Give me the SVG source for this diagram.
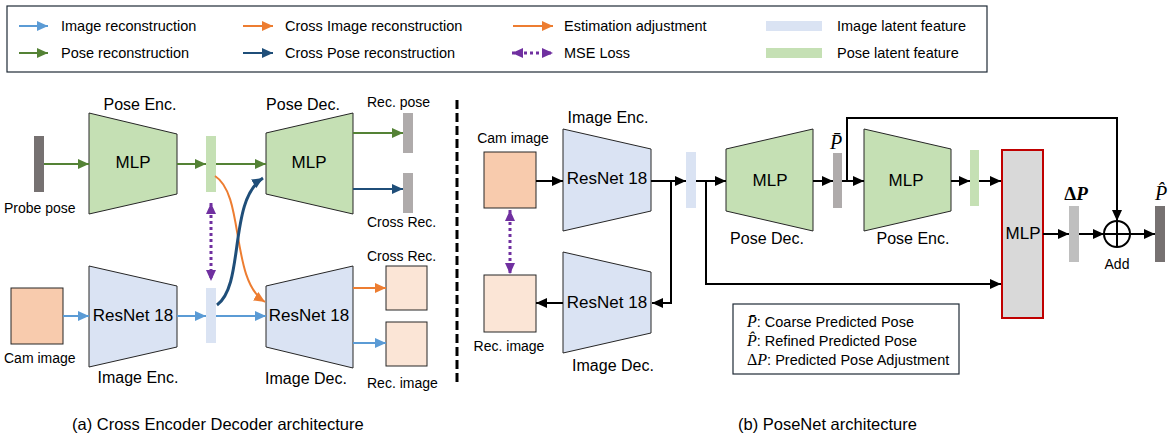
<svg xmlns="http://www.w3.org/2000/svg" width="1173" height="441" viewBox="0 0 1173 441">
<defs>
<marker id="hb" markerUnits="userSpaceOnUse" markerWidth="12" markerHeight="10" refX="11" refY="5" orient="auto"><path d="M0,0 L11,5 L0,10 Z" fill="#5B9BD5"/></marker>
<marker id="hg" markerUnits="userSpaceOnUse" markerWidth="12" markerHeight="10" refX="11" refY="5" orient="auto"><path d="M0,0 L11,5 L0,10 Z" fill="#548235"/></marker>
<marker id="ho" markerUnits="userSpaceOnUse" markerWidth="12" markerHeight="10" refX="11" refY="5" orient="auto"><path d="M0,0 L11,5 L0,10 Z" fill="#ED7D31"/></marker>
<marker id="hd" markerUnits="userSpaceOnUse" markerWidth="12" markerHeight="10" refX="11" refY="5" orient="auto"><path d="M0,0 L11,5 L0,10 Z" fill="#1F4E79"/></marker>
<marker id="hk" markerUnits="userSpaceOnUse" markerWidth="12" markerHeight="10" refX="11" refY="5" orient="auto"><path d="M0,0 L11,5 L0,10 Z" fill="#000"/></marker>
<marker id="hp" markerUnits="userSpaceOnUse" markerWidth="12" markerHeight="10" refX="11" refY="5" orient="auto-start-reverse"><path d="M0,0 L11,5 L0,10 Z" fill="#7030A0"/></marker>
</defs>
<style>
text{font-family:"Liberation Sans",Arial,sans-serif;fill:#000}
.lg{font-size:14.5px}
.lb{font-size:16px}
.sm{font-size:14px}
.in{font-size:17px}
.cap{font-size:16.5px}
.nt{font-size:14.5px}
.math{font-family:"Liberation Serif","DejaVu Serif",serif;font-style:italic}
.up{font-family:"Liberation Serif","DejaVu Serif",serif;font-style:normal}
.pe{fill:#C5E0B4;stroke:#262626;stroke-width:1}
.ie{fill:#DAE3F3;stroke:#262626;stroke-width:1}
.b{stroke:#5B9BD5;stroke-width:2;fill:none}
.g{stroke:#548235;stroke-width:2;fill:none}
.o{stroke:#ED7D31;stroke-width:2;fill:none}
.d{stroke:#1F4E79;stroke-width:2;fill:none}
.dt{stroke:#1F4E79;stroke-width:3;fill:none}
.k{stroke:#000;stroke-width:2;fill:none}
.mse{stroke:#7030A0;stroke-width:3;stroke-dasharray:3 3;fill:none}
.img{fill:#F8CBAD;stroke:#262626;stroke-width:1}
.rimg{fill:#FBE5D6;stroke:#262626;stroke-width:1}
</style>
<rect width="1173" height="441" fill="#fff"/>
<g id="legend">
<rect x="7" y="6" width="980" height="66" fill="#fff" stroke="#1F2A36" stroke-width="1.2"/>
<line x1="19" y1="26" x2="48" y2="26" class="b" marker-end="url(#hb)"/>
<text x="61" y="31" class="lg">Image reconstruction</text>
<line x1="19" y1="53" x2="48" y2="53" class="g" marker-end="url(#hg)"/>
<text x="61" y="58" class="lg">Pose reconstruction</text>
<line x1="243" y1="26" x2="273" y2="26" class="o" marker-end="url(#ho)"/>
<text x="285" y="31" class="lg">Cross Image reconstruction</text>
<line x1="243" y1="53" x2="273" y2="53" class="d" marker-end="url(#hd)"/>
<text x="285" y="58" class="lg">Cross Pose reconstruction</text>
<line x1="513" y1="26" x2="553" y2="26" class="o" marker-end="url(#ho)"/>
<text x="564" y="31" class="lg">Estimation adjustment</text>
<line x1="512" y1="53" x2="553" y2="53" class="mse" marker-start="url(#hp)" marker-end="url(#hp)"/>
<text x="564" y="58" class="lg">MSE Loss</text>
<rect x="766" y="21" width="56" height="10" fill="#DAE3F3"/>
<text x="837" y="31" class="lg">Image latent feature</text>
<rect x="766" y="48" width="56" height="10" fill="#C5E0B4"/>
<text x="837" y="58" class="lg">Pose latent feature</text>
</g>
<g id="probe-pose">
<rect x="34" y="136" width="10" height="56" fill="#767171"/>
<text x="4" y="213" class="sm">Probe pose</text>
</g>
<g id="pose-enc-a">
<polygon points="89,113 177,134 177,194 89,214" class="pe"/>
<text x="133" y="168" class="in" text-anchor="middle">MLP</text>
<text x="140" y="110" class="lb" text-anchor="middle">Pose Enc.</text>
</g>
<g id="pose-latent-a"><rect x="206" y="136" width="10" height="56" fill="#C5E0B4"/></g>
<g id="pose-dec-a">
<polygon points="266,133 353,113 353,214 266,194" class="pe"/>
<text x="309" y="168" class="in" text-anchor="middle">MLP</text>
<text x="303" y="110" class="lb" text-anchor="middle">Pose Dec.</text>
</g>
<g id="rec-pose">
<rect x="403" y="113" width="10" height="40" fill="#AFABAB"/>
<text x="367" y="107" class="sm">Rec. pose</text>
</g>
<g id="cross-rec-pose">
<rect x="403" y="173" width="10" height="40" fill="#AFABAB"/>
<text x="367" y="227" class="sm">Cross Rec.</text>
</g>
<g id="cam-image-a">
<rect x="11" y="288" width="52" height="56" class="img"/>
<text x="4" y="363" class="sm">Cam image</text>
</g>
<g id="image-enc-a">
<polygon points="89,266 177,286 177,347 89,367" class="ie"/>
<text x="133" y="321" class="in" text-anchor="middle">ResNet 18</text>
<text x="138" y="383" class="lb" text-anchor="middle">Image Enc.</text>
</g>
<g id="image-latent-a"><rect x="206" y="288" width="10" height="55" fill="#DAE3F3"/></g>
<g id="image-dec-a">
<polygon points="266,286 353,266 353,368 266,347" class="ie"/>
<text x="309" y="321" class="in" text-anchor="middle">ResNet 18</text>
<text x="306" y="384" class="lb" text-anchor="middle">Image Dec.</text>
</g>
<g id="cross-rec-image">
<rect x="386" y="266" width="41" height="44" class="rimg"/>
<text x="367" y="261" class="sm">Cross Rec.</text>
</g>
<g id="rec-image-a">
<rect x="386" y="322" width="41" height="44" class="rimg"/>
<text x="367" y="388" class="sm">Rec. image</text>
</g>
<g id="connectors-a">
<line x1="44" y1="164" x2="89" y2="164" class="g" marker-end="url(#hg)"/>
<line x1="177" y1="164" x2="206" y2="164" class="g" marker-end="url(#hg)"/>
<line x1="216" y1="164" x2="266" y2="164" class="g" marker-end="url(#hg)"/>
<line x1="353" y1="133" x2="403" y2="133" class="g" marker-end="url(#hg)"/>
<line x1="353" y1="189" x2="403" y2="189" class="d" marker-end="url(#hd)"/>
<line x1="63" y1="316" x2="89" y2="316" class="b" marker-end="url(#hb)"/>
<line x1="177" y1="316" x2="206" y2="316" class="b" marker-end="url(#hb)"/>
<line x1="216" y1="316" x2="266" y2="316" class="b" marker-end="url(#hb)"/>
<line x1="353" y1="288" x2="386" y2="288" class="o" marker-end="url(#ho)"/>
<line x1="353" y1="343" x2="386" y2="343" class="b" marker-end="url(#hb)"/>
<path d="M215,176 C245,195 230,280 265,302" class="o" marker-end="url(#ho)"/>
<path d="M217,305 C245,285 228,200 263,178" class="dt" marker-end="url(#hd)"/>
<line x1="211" y1="203" x2="211" y2="281" class="mse" marker-start="url(#hp)" marker-end="url(#hp)"/>
</g>
<g id="divider"><line x1="457" y1="100" x2="457" y2="386" stroke="#000" stroke-width="3" stroke-dasharray="9 4"/></g>
<g id="cam-image-b">
<rect x="484" y="152" width="52" height="56" class="img"/>
<text x="513" y="143" class="sm" text-anchor="middle">Cam image</text>
</g>
<g id="image-enc-b">
<polygon points="563,129 651,149 651,211 563,231" class="ie"/>
<text x="607" y="184" class="in" text-anchor="middle">ResNet 18</text>
<text x="608" y="123" class="lb" text-anchor="middle">Image Enc.</text>
</g>
<g id="image-dec-b">
<polygon points="563,252 651,272 651,333 563,353" class="ie"/>
<text x="607" y="308" class="in" text-anchor="middle">ResNet 18</text>
<text x="613" y="371" class="lb" text-anchor="middle">Image Dec.</text>
</g>
<g id="rec-image-b">
<rect x="484" y="275" width="52" height="57" class="rimg"/>
<text x="509" y="351" class="sm" text-anchor="middle">Rec. image</text>
</g>
<g id="image-latent-b"><rect x="686" y="152" width="10" height="56" fill="#DAE3F3"/></g>
<g id="pose-dec-b">
<polygon points="726,149 813,129 813,231 726,211" class="pe"/>
<text x="770" y="186" class="in" text-anchor="middle">MLP</text>
<text x="767" y="244" class="lb" text-anchor="middle">Pose Dec.</text>
</g>
<g id="p-bar">
<rect x="833" y="153" width="9" height="55" fill="#AFABAB"/>
<text x="836" y="149" class="math" font-size="20" text-anchor="middle">P̄</text>
</g>
<g id="pose-enc-b">
<polygon points="864,129 951,149 951,211 864,231" class="pe"/>
<text x="906" y="186" class="in" text-anchor="middle">MLP</text>
<text x="913" y="244" class="lb" text-anchor="middle">Pose Enc.</text>
</g>
<g id="pose-latent-b"><rect x="970" y="150" width="9" height="56" fill="#C5E0B4"/></g>
<g id="mlp-adjust">
<rect x="1002" y="150" width="41" height="168" fill="#D9D9D9" stroke="#C00000" stroke-width="2"/>
<text x="1023" y="239" class="in" text-anchor="middle">MLP</text>
</g>
<g id="delta-p">
<rect x="1069" y="206" width="10" height="56" fill="#BFBFBF"/>
<text x="1076" y="200" class="math" font-size="19" font-weight="bold" text-anchor="middle"><tspan class="up">Δ</tspan>P</text>
</g>
<g id="add">
<circle cx="1117" cy="234" r="13" fill="#fff" stroke="#000" stroke-width="2"/>
<line x1="1104" y1="234" x2="1130" y2="234" stroke="#000" stroke-width="2"/>
<line x1="1117" y1="221" x2="1117" y2="247" stroke="#000" stroke-width="2"/>
<text x="1117" y="269" class="sm" text-anchor="middle">Add</text>
</g>
<g id="p-hat">
<rect x="1155" y="206" width="10" height="56" fill="#767171"/>
<text x="1161" y="200" class="math" font-size="20" text-anchor="middle">P̂</text>
</g>
<g id="notation">
<rect x="733" y="304" width="226" height="70" fill="#fff" stroke="#1F2A36" stroke-width="1.2"/>
<text x="747" y="327" class="nt"><tspan class="math" font-size="16">P̄</tspan>: Coarse Predicted Pose</text>
<text x="747" y="346" class="nt"><tspan class="math" font-size="16">P̂</tspan>: Refined Predicted Pose</text>
<text x="747" y="365" class="nt"><tspan class="up" font-size="16">Δ</tspan><tspan class="math" font-size="16">P</tspan>: Predicted Pose Adjustment</text>
</g>
<g id="connectors-b">
<line x1="536" y1="181" x2="563" y2="181" class="k" marker-end="url(#hk)"/>
<line x1="651" y1="181" x2="686" y2="181" class="k" marker-end="url(#hk)"/>
<polyline points="671,181 671,303 652,303" class="k" marker-end="url(#hk)"/>
<line x1="563" y1="303" x2="536" y2="303" class="k" marker-end="url(#hk)"/>
<line x1="510" y1="210" x2="510" y2="274" class="mse" marker-start="url(#hp)" marker-end="url(#hp)"/>
<line x1="696" y1="181" x2="726" y2="181" class="k" marker-end="url(#hk)"/>
<polyline points="706,181 706,284 1001,284" class="k" marker-end="url(#hk)"/>
<line x1="813" y1="181" x2="833" y2="181" class="k" marker-end="url(#hk)"/>
<line x1="842" y1="181" x2="864" y2="181" class="k" marker-end="url(#hk)"/>
<polyline points="847,181 847,118 1117,118 1117,221" class="k" marker-end="url(#hk)"/>
<line x1="951" y1="181" x2="970" y2="181" class="k" marker-end="url(#hk)"/>
<line x1="979" y1="181" x2="1001" y2="181" class="k" marker-end="url(#hk)"/>
<line x1="1043" y1="234" x2="1069" y2="234" class="k" marker-end="url(#hk)"/>
<line x1="1079" y1="234" x2="1104" y2="234" class="k" marker-end="url(#hk)"/>
<line x1="1130" y1="234" x2="1155" y2="234" class="k" marker-end="url(#hk)"/>
</g>
<g id="captions">
<text x="72" y="430" class="cap">(a) Cross Encoder Decoder architecture</text>
<text x="738" y="430" class="cap">(b) PoseNet architecture</text>
</g>
</svg>
